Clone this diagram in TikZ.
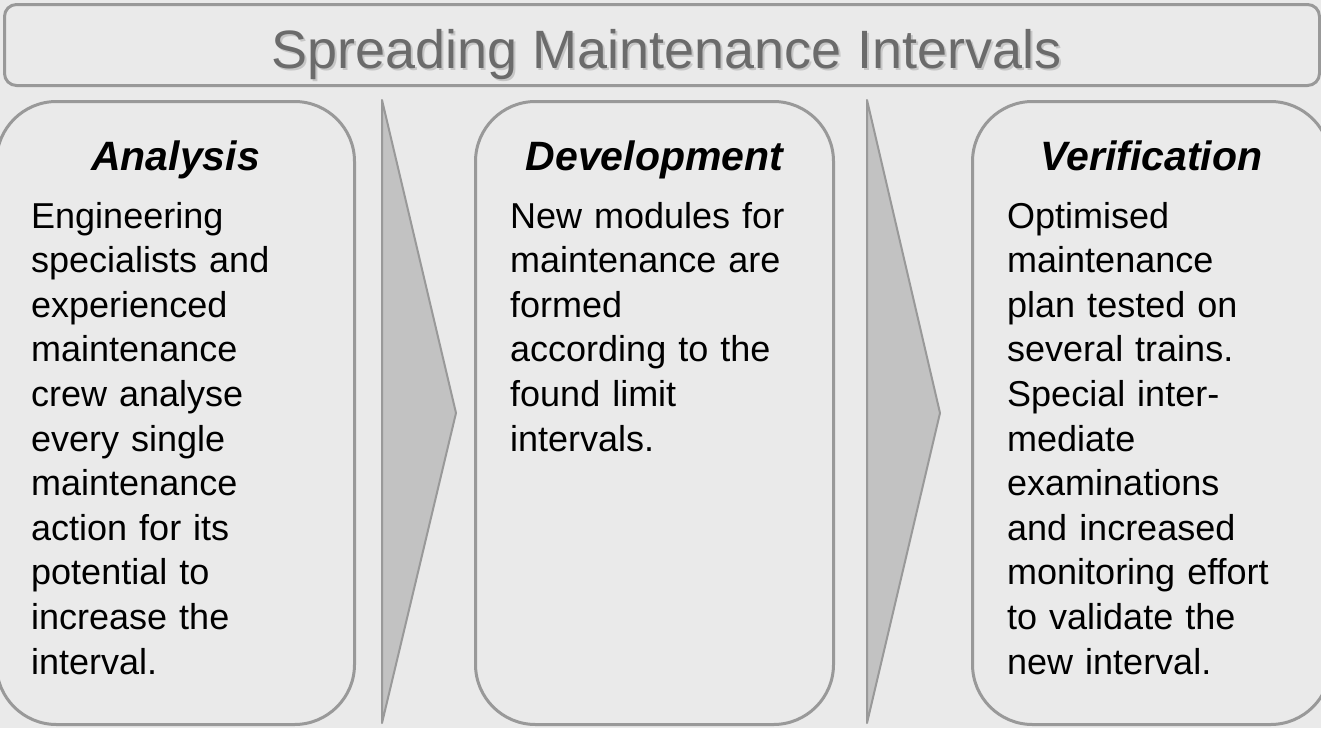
\documentclass[tikz,border=0pt]{standalone}
\usepackage{fontspec}
\setmainfont{Liberation Sans}
\usetikzlibrary{positioning}
\definecolor{paper}{HTML}{EAEAEA}
\definecolor{frame}{HTML}{999999}
\definecolor{wedge}{HTML}{C2C2C2}
\definecolor{inkgray}{HTML}{6B6B6B}
\definecolor{shade}{HTML}{C6C6C6}

\begin{document}
\begin{tikzpicture}[x=1pt, y=-1pt,
  stage/.style={draw=frame, line width=3pt, fill=paper, rounded corners=60pt,
                minimum width=358pt, minimum height=623pt, inner sep=0pt, anchor=north west},
  head/.style={font=\fontsize{41}{48}\selectfont\bfseries\itshape, anchor=base, inner sep=0pt},
  body/.style={font=\fontsize{36}{44.6}\selectfont, text width=320pt, align=left,
               anchor=base west, inner sep=0pt},
  bannertext/.style={font=\fontsize{54}{60}\selectfont, anchor=base, inner sep=0pt},
  wedgeshape/.style={draw=frame, line width=2pt, fill=wedge, line join=round}]
\useasboundingbox (0,0) rectangle (1321,728);
\fill[paper] (0,0) rectangle (1321,728);

% title bar
\node[draw=frame, line width=3pt, rounded corners=12pt, minimum width=1315pt,
      minimum height=81pt, inner sep=0pt, anchor=north west] (banner) at (3,3) {};
\node[bannertext, text=shade] (bannershadow) at ([xshift=6.5pt, yshift=-25.5pt]banner.center)
      {Spreading Maintenance Intervals};
\node[bannertext, text=inkgray] (bannertitle) at ([xshift=4.5pt, yshift=-23.5pt]banner.center)
      {Spreading Maintenance Intervals};

% the three stages
\node[stage] (ana) at (-5,100) {};
\node[stage] (dev) at (474,100) {};
\node[stage] (ver) at (971,100) {};

% arrows between stages
\draw[wedgeshape] (382,100) -- (456,413) -- (382,723) -- cycle;
\draw[wedgeshape] (867,100) -- (940,413) -- (867,723) -- cycle;

\node[head] (anahead) at ([yshift=-70pt]ana.north) {Analysis};
\node[head] (devhead) at ([yshift=-70pt]dev.north) {Development};
\node[head] (verhead) at ([yshift=-70pt]ver.north) {Verification};

\node[body] (anatext) at ([xshift=36pt, yshift=-128pt]ana.north west)
  {Engineering\\ specialists and\\ experienced\\ maintenance\\ crew analyse\\
   every single\\ maintenance\\ action for its\\ potential to\\ increase the\\ interval.};
\node[body] (devtext) at ([xshift=36pt, yshift=-128pt]dev.north west)
  {New modules for\\ maintenance are\\ formed\\ according to the\\ found limit\\ intervals.};
\node[body] (vertext) at ([xshift=36pt, yshift=-128pt]ver.north west)
  {Optimised\\ maintenance\\ plan tested on\\ several trains.\\ Special inter-\\
   mediate\\ examinations\\ and increased\\ monitoring effort\\ to validate the\\ new interval.};
\end{tikzpicture}
\end{document}
